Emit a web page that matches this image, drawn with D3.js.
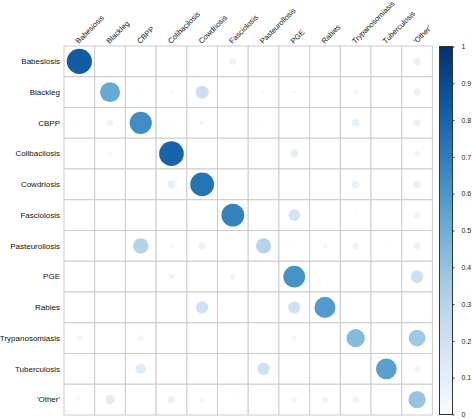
<!DOCTYPE html>
<html><head><meta charset="utf-8">
<script src="https://cdn.jsdelivr.net/npm/d3@7"></script>
<style>
html,body{margin:0;padding:0;background:#fff;}
text{font-family:"Liberation Sans",Arial,sans-serif;}
</style></head>
<body><svg id="chart" width="472" height="419"></svg>
<script>
const categories = ["Babesiosis","Blackleg","CBPP","Colibacilosis","Cowdriosis","Fasciolosis","Pasteurollosis","PGE","Rabies","Trypanosomiasis","Tuberculosis","'Other'"];
// rows follow categories order, columns follow categories order
const rowBabesiosis     = [0.83,0,0,0,0,0.06,0,0,0,0,0,0.07];
const rowBlackleg       = [0,0.52,0.01,0.02,0.22,0.002,0.012,0.012,0,0.03,0,0.07];
const rowCBPP           = [0.01,0.06,0.64,0,0.03,0.003,0.01,0.003,0.005,0.08,0,0.07];
const rowColibacilosis  = [0,0.02,0,0.80,0,0,0,0.09,0,0,0,0.045];
const rowCowdriosis     = [0,0,0,0.085,0.74,0,0,0,0,0.08,0,0.075];
const rowFasciolosis    = [0.003,0,0,0,0.002,0.68,0,0.18,0,0.01,0,0.055];
const rowPasteurollosis = [0.002,0.002,0.31,0.02,0.06,0,0.30,0.01,0.03,0.06,0.01,0.06];
const rowPGE            = [0.002,0.002,0,0.045,0.002,0.045,0,0.62,0.003,0,0,0.21];
const rowRabies         = [0,0,0,0,0.20,0,0,0.20,0.58,0,0,0];
const rowTrypanosomiasis= [0.045,0.002,0.045,0,0.002,0,0,0.03,0,0.44,0,0.37];
const rowTuberculosis   = [0,0,0.13,0,0,0,0.20,0,0,0,0.56,0.045];
const rowOther          = [0.02,0.115,0.005,0.07,0.035,0.01,0.003,0.045,0.05,0.06,0.003,0.39];
const matrixRows = [rowBabesiosis,rowBlackleg,rowCBPP,rowColibacilosis,rowCowdriosis,rowFasciolosis,rowPasteurollosis,rowPGE,rowRabies,rowTrypanosomiasis,rowTuberculosis,rowOther];
const legendTicks = [0,0.1,0.2,0.3,0.4,0.5,0.6,0.7,0.8,0.9,1];

const svg = d3.select("#chart");
const x = d3.scaleBand().domain(categories).range([64, 432.4]);
const y = d3.scaleBand().domain(categories).range([46, 415]);
const color = d3.scaleSequential(d3.interpolateBlues).domain([0,1]);
const rScale = d3.scaleSqrt().domain([0,1]).range([0, 0.45*x.bandwidth()]);

const cells = [];
matrixRows.forEach((row,i)=>row.forEach((v,j)=>cells.push({r:categories[i],c:categories[j],v})));

// grid
const g = svg.append("g");
g.selectAll("rect.cell").data(cells).join("rect")
  .attr("x",d=>x(d.c)).attr("y",d=>y(d.r))
  .attr("width",x.bandwidth()).attr("height",y.bandwidth())
  .attr("fill","#fff").attr("stroke","#cccccc").attr("stroke-width",1);

g.selectAll("circle").data(cells.filter(d=>d.v>0)).join("circle")
  .attr("cx",d=>x(d.c)+x.bandwidth()/2)
  .attr("cy",d=>y(d.r)+y.bandwidth()/2)
  .attr("r",d=>rScale(d.v))
  .attr("fill",d=>color(d.v));

// row labels
svg.append("g").selectAll("text").data(categories).join("text")
  .attr("x",60).attr("y",d=>y(d)+y.bandwidth()/2)
  .attr("dy","0.35em").attr("text-anchor","end")
  .attr("font-size","8px").attr("fill","#111").text(d=>d);

// column labels
svg.append("g").selectAll("text").data(categories).join("text")
  .attr("transform",d=>`translate(${x(d)+x.bandwidth()/2-0.5},${44}) rotate(-45)`)
  .attr("text-anchor","start")
  .attr("font-size","7.5px").attr("fill","#111").text(d=>d);

// colour bar
const barX = 439.5, barW = 13;
const ly = d3.scaleLinear().domain([0,1]).range([414.5, 46.5]);
const defs = svg.append("defs");
const grad = defs.append("linearGradient").attr("id","cbar")
  .attr("x1","0").attr("y1","1").attr("x2","0").attr("y2","0");
d3.range(0,1.0001,0.05).forEach(t=>grad.append("stop").attr("offset",t).attr("stop-color",color(t)));
svg.append("rect").attr("x",barX).attr("y",ly(1)).attr("width",barW).attr("height",ly(0)-ly(1))
  .attr("fill","url(#cbar)").attr("stroke","#333").attr("stroke-width",1);

const axis = d3.axisRight(ly).tickValues(legendTicks).tickSize(2).tickPadding(7)
  .tickFormat(d=>d3.format("")(d));
const ag = svg.append("g").attr("transform",`translate(${barX+barW},0)`).call(axis);
ag.select(".domain").remove();
ag.selectAll("line").attr("stroke","#333");
ag.selectAll("text").attr("font-size","7px").attr("fill","#222").attr("font-family","'Liberation Sans',Arial,sans-serif");
</script>
</body></html>
